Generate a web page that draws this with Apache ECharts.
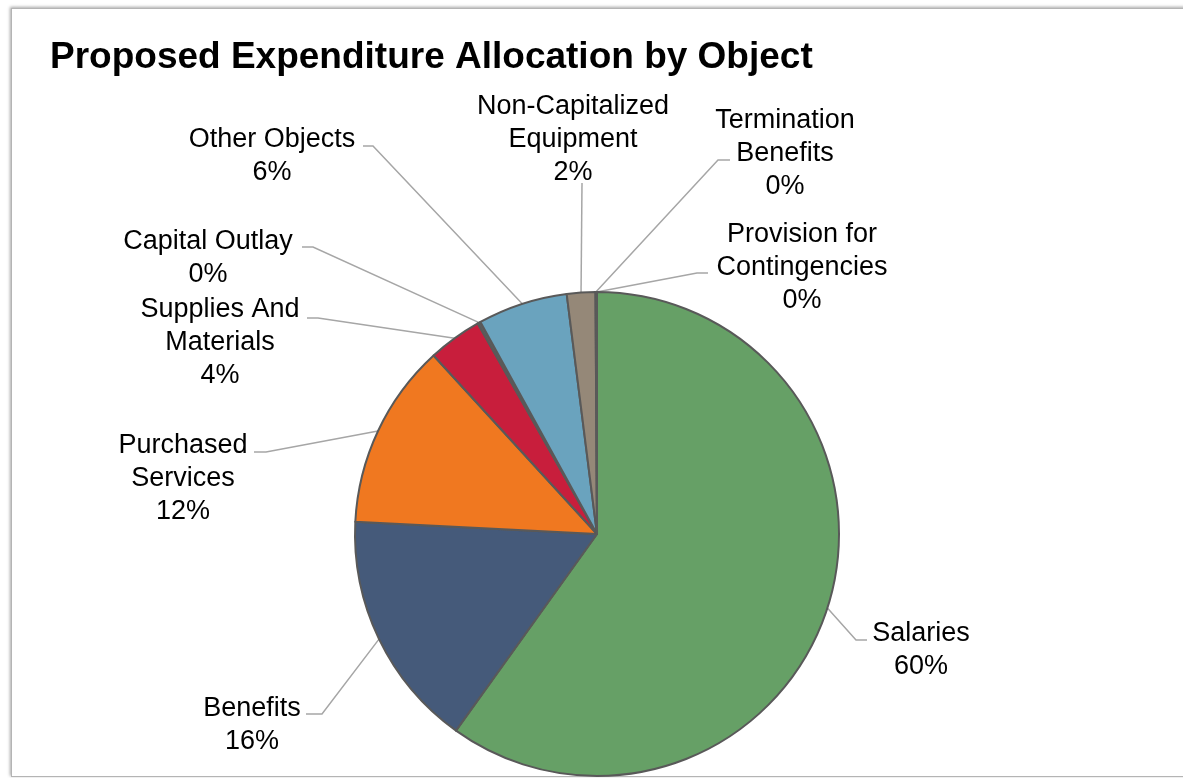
<!DOCTYPE html>
<html>
<head>
<meta charset="utf-8">
<script src="https://cdn.jsdelivr.net/npm/echarts@6/dist/echarts.min.js"></script>
<style>
  html, body { margin: 0; padding: 0; background: #ffffff; overflow: hidden; }
  #frame { position: absolute; left: 11px; top: 8px; width: 1200px; height: 767px;
           border: 1px solid #b4b4b4; box-shadow: -1px -1px 3px rgba(0,0,0,0.35); background: #fff; }
  #chart { position: absolute; left: 0; top: 0; width: 1183px; height: 778px; }
</style>
</head>
<body>
<div id="frame"></div>
<div id="chart"></div>
<script>
// ---- data ----
var categories = ['Salaries', 'Benefits', 'Purchased Services', 'Supplies And Materials',
  'Capital Outlay', 'Other Objects', 'Non-Capitalized Equipment', 'Termination Benefits',
  'Provision for Contingencies'];
var shares = [59.9, 15.9, 12.4, 3.6, 0.2, 6.0, 1.9, 0.05, 0.05];
var labelNames = ['Salaries', 'Benefits', 'Purchased\nServices', 'Supplies And\nMaterials',
  'Capital Outlay', 'Other Objects', 'Non-Capitalized\nEquipment', 'Termination\nBenefits',
  'Provision for\nContingencies'];
var colors = ['#66A066', '#455A7A', '#F07820', '#C81E3C', '#5E5E5E', '#6AA3BE', '#958878', '#B0A080', '#7F7F7F'];

// label placement: [centerX, middleY, bendX, bendY, endX, endY]
var labelPlace = [
  [921, 650, 856, 640, 867, 640],
  [252, 725, 322, 714, 306, 714],
  [183, 479, 266, 452, 254, 452],
  [220, 343, 318, 318, 307, 318],
  [208, 258, 313, 247, 302, 247],
  [272, 156, 373, 146, 363, 146],
  [573, 140, 582, 183, 582, 183],
  [785, 154, 718, 160, 730, 160],
  [802, 268, 697, 273, 708, 273]
];

var chart = echarts.init(document.getElementById('chart'), null, { renderer: 'canvas' });
var option = {
  animation: false,
  backgroundColor: 'transparent',
  title: {
    text: 'Proposed Expenditure Allocation by Object',
    left: 45, top: 34,
    textStyle: { fontFamily: 'Liberation Sans, Arial, sans-serif', fontSize: 37, fontWeight: 'bold', color: '#000' }
  },
  series: [{
    type: 'pie',
    center: [597, 534],
    radius: 242,
    startAngle: 90,
    clockwise: true,
    avoidLabelOverlap: false,
    percentPrecision: 0,
    emphasis: { disabled: true },
    itemStyle: { borderColor: '#595959', borderWidth: 2 },
    label: {
      show: true,
      position: 'outside',
      formatter: function (p) { return labelNames[p.dataIndex] + '\n' + p.percent + '%'; },
      fontFamily: 'Liberation Sans, Arial, sans-serif',
      fontSize: 27,
      lineHeight: 33,
      color: '#000',
      align: 'center'
    },
    labelLine: { show: true, lineStyle: { color: '#A6A6A6', width: 1.5 }, length: 10, length2: 10 },
    labelLayout: function (p) {
      var L = labelPlace[p.dataIndex];
      var res = { x: L[0], y: L[1], align: 'center', verticalAlign: 'middle' };
      if (p.labelLinePoints && p.labelLinePoints.length) {
        res.labelLinePoints = [p.labelLinePoints[0], [L[2], L[3]], [L[4], L[5]]];
      }
      return res;
    },
    data: categories.map(function (c, i) {
      return { name: c, value: shares[i], itemStyle: { color: colors[i] } };
    })
  }]
};
chart.setOption(option);
</script>
</body>
</html>
